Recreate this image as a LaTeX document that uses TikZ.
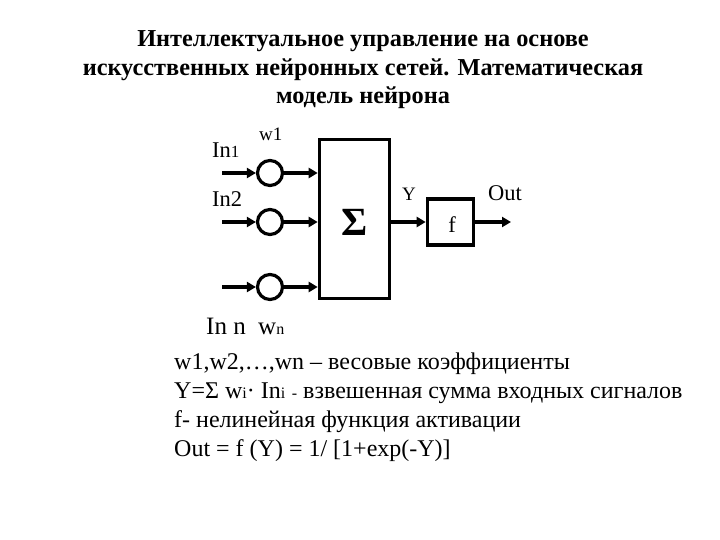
\documentclass[tikz,border=0pt]{standalone}
\usepackage{fontspec}
\setmainfont{Liberation Serif}
\usetikzlibrary{arrows.meta}
\begin{document}
\begin{tikzpicture}[x=1pt,y=-1pt,
  wire/.style={line width=3.6pt,-{Triangle[length=9pt,width=10pt]}},
  neuron/.style={circle,draw,line width=3.2pt,minimum size=25pt,inner sep=0pt},
  blockbox/.style={draw,line width=3.6pt,inner sep=0pt},
  lbl/.style={font=\fontsize{22.5}{24}\selectfont,inner sep=0pt},
  slbl/.style={font=\fontsize{19}{20}\selectfont,inner sep=0pt},
  bodytxt/.style={font=\fontsize{24}{28}\selectfont,anchor=base west,inner sep=0pt}]
\useasboundingbox (0,0) rectangle (720,540);
% title
\node[font=\fontsize{24.3}{28.5}\selectfont\bfseries,align=center] (title) at (363,70)
  {Интеллектуальное управление на основе\\искусственных нейронных сетей. Математическая\\модель нейрона};
% blocks
\node[blockbox,minimum width=70pt,minimum height=159pt] (sum) at (354.5,219) {};
\node[font=\fontsize{40}{40}\selectfont\bfseries,inner sep=0pt] (sig) at (355,222) {Σ};
\node[blockbox,minimum width=46pt,minimum height=46pt] (f) at (450.5,222) {};
\node[lbl] (ftxt) at (452,225) {f};
% neurons
\node[neuron] (c1) at (270,173) {};
\node[neuron] (c2) at (270,222) {};
\node[neuron] (c3) at (270,287) {};
\coordinate (i1) at (222,173);
\coordinate (i2) at (222,222);
\coordinate (i3) at (222,287);
\coordinate (o) at (511,222);
\draw[wire] (i1) -- (c1.west);
\draw[wire] (i2) -- (c2.west);
\draw[wire] (i3) -- (c3.west);
\draw[wire] (c1.east) -- (sum.west |- c1.east);
\draw[wire] (c2.east) -- (sum.west |- c2.east);
\draw[wire] (c3.east) -- (sum.west |- c3.east);
\draw[wire] (sum.east |- f.west) -- (f.west);
\draw[wire] (f.east) -- (o);
% labels
\node[lbl,anchor=base west] (in1) at (212,158) {In\fontsize{17}{18}\selectfont 1};
\node[slbl,anchor=base west] (w1) at (259,141) {w1};
\node[lbl,anchor=base west] (in2) at (212,207) {In2};
\node[slbl,anchor=base west] (ylab) at (402,201) {Y};
\node[lbl,anchor=base west] (out) at (488,201) {Out};
\node[font=\fontsize{25}{26}\selectfont,inner sep=0pt,anchor=base west] (inn) at (206,334) {In n};
\node[font=\fontsize{25}{26}\selectfont,inner sep=0pt,anchor=base west] (wn) at (258,334) {w\fontsize{16}{18}\selectfont n};
% body text
\node[bodytxt] (t1) at (174,369) {w1,w2,…,wn – весовые коэффициенты};
\node[bodytxt] (t2) at (174,398) {Y=Σ w{\fontsize{16}{18}\selectfont i}· In{\fontsize{16}{18}\selectfont i \,-} взвешенная сумма входных сигналов};
\node[bodytxt] (t3) at (174,427) {f- нелинейная функция активации};
\node[bodytxt] (t4) at (174,456) {Out = f (Y) = 1/ [1+exp(-Y)]};
\end{tikzpicture}
\end{document}
